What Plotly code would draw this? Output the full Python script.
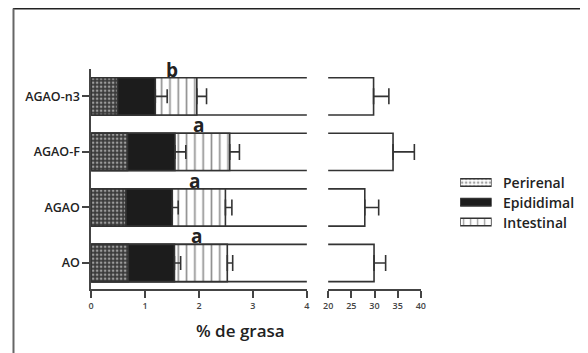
import plotly.graph_objects as go

# ---- data ----
categories = ["AO", "AGAO", "AGAO-F", "AGAO-n3"]
perirenal = [0.69, 0.645, 0.675, 0.49]
epididimal = [0.855, 0.86, 0.88, 0.70]
epididimal_err = [0.115, 0.11, 0.20, 0.22]
intestinal = [0.98, 0.985, 1.015, 0.77]
intestinal_err = [0.10, 0.12, 0.18, 0.18]
total = [29.9, 27.9, 34.0, 29.8]
total_err = [2.5, 3.0, 4.6, 3.3]
letters = ["a", "a", "a", "b"]
legend_names = ["Intestinal", "Epididimal", "Perirenal"]
left_ticks = [0, 1, 2, 3, 4]
right_ticks = [20, 25, 30, 35, 40]

# page body has an 8px margin; work in reference-pixel coordinates
OFF = 8
W, H = 588 - OFF, 353 - OFF
FONT = "Open Sans"
LINE = "#333"


def px(x):
    return (x - OFF) / W


def py(y):
    return 1 - (y - OFF) / H


cum_epi = [p + e for p, e in zip(perirenal, epididimal)]
cum_int = [c + i for c, i in zip(cum_epi, intestinal)]

fig = go.Figure()
bw = 0.67
checker = dict(shape=".", size=4, solidity=0.35, fgcolor="white", bgcolor="#3a3a3a")
vlines = dict(shape="|", size=8.3, solidity=0.2, fgcolor="#222", bgcolor="white")

fig.add_trace(go.Bar(y=categories, x=total, orientation="h", width=bw,
                     marker=dict(color="white", line=dict(color=LINE, width=1.6)),
                     xaxis="x", yaxis="y", showlegend=False, hoverinfo="skip"))
fig.add_trace(go.Bar(y=categories, x=cum_int, orientation="h", width=bw,
                     marker=dict(color="white", line=dict(color=LINE, width=1.6),
                                 pattern=vlines),
                     error_x=dict(type="data", symmetric=False, array=intestinal_err,
                                  arrayminus=[0] * 4, color="#333", thickness=1.6, width=8),
                     xaxis="x", yaxis="y", showlegend=False))
fig.add_trace(go.Bar(y=categories, x=cum_epi, orientation="h", width=bw,
                     marker=dict(color="#1c1c1c", line=dict(color=LINE, width=1.6)),
                     error_x=dict(type="data", symmetric=False, array=epididimal_err,
                                  arrayminus=[0] * 4, color="#333", thickness=1.6, width=7),
                     xaxis="x", yaxis="y", showlegend=False))
fig.add_trace(go.Bar(y=categories, x=perirenal, orientation="h", width=bw,
                     marker=dict(color="white", line=dict(color=LINE, width=1.6),
                                 pattern=checker),
                     xaxis="x", yaxis="y", showlegend=False))
fig.add_trace(go.Bar(y=categories, x=total, orientation="h", width=bw,
                     marker=dict(color="white", line=dict(color=LINE, width=1.6)),
                     error_x=dict(type="data", symmetric=False, array=total_err,
                                  arrayminus=[0] * 4, color="#333", thickness=1.6, width=8),
                     xaxis="x2", yaxis="y", showlegend=False))

# legend swatches drawn as bars on a hidden axis
fig.add_trace(go.Bar(y=legend_names, x=[1, 1, 1], orientation="h", width=0.38,
                     marker=dict(color=["white", "#1c1c1c", "white"],
                                 line=dict(color=LINE, width=1.3),
                                 pattern=dict(shape=["|", "", "."], size=[7, 4, 4],
                                              solidity=[0.2, 0.3, 0.35],
                                              fgcolor=["#222", "#222", "white"],
                                              bgcolor=["white", "#1c1c1c", "#3a3a3a"])),
                     xaxis="x3", yaxis="y3", showlegend=False, hoverinfo="skip"))

annotations = []
for i, (c, t) in enumerate(zip(categories, letters)):
    annotations.append(dict(x=(cum_epi[i] + cum_int[i]) / 2 - 0.08, y=i + 0.48,
                            xref="x", yref="y", text="<b>" + t + "</b>", showarrow=False,
                            font=dict(family=FONT, size=19, color="#222"),
                            xanchor="center", yanchor="middle"))
for i, n in enumerate(legend_names):
    annotations.append(dict(x=px(505), y=i, xref="paper", yref="y3", text=n,
                            showarrow=False, xanchor="left", yanchor="middle",
                            font=dict(family=FONT, size=14, color="#222", weight=600)))
annotations.append(dict(x=px(239), y=py(330), xref="paper", yref="paper",
                        text="% de grasa", showarrow=False, xanchor="center",
                        yanchor="middle",
                        font=dict(family=FONT, size=17, color="#222", weight=600)))

axis_common = dict(showline=True, linecolor="#444", linewidth=1.6, ticks="outside",
                   ticklen=7, tickwidth=1.6, tickcolor="#444", showgrid=False,
                   zeroline=False)

fig.update_layout(
    width=W, height=H,
    margin=dict(l=0, r=0, t=0, b=0),
    paper_bgcolor="white", plot_bgcolor="white",
    barmode="overlay",
    showlegend=False,
    font=dict(family=FONT, color="#333"),
    xaxis=dict(domain=[px(87.5), px(307)], range=[0, 4], tickvals=left_ticks,
               tickfont=dict(size=9, color="#444", weight=600), anchor="y", **axis_common),
    xaxis2=dict(domain=[px(328.7), px(423)], range=[20, 40], tickvals=right_ticks,
                tickfont=dict(size=9, color="#444", weight=600), anchor="y", **axis_common),
    yaxis=dict(domain=[py(289.3), py(68.7)], range=[-0.473, 3.498], type="category",
               categoryorder="array", categoryarray=categories,
               tickfont=dict(size=12.5, color="#222", weight=600), anchor="x",
               **axis_common),
    xaxis3=dict(domain=[px(463), px(495)], range=[0, 1], visible=False,
                anchor="y3", fixedrange=True),
    yaxis3=dict(domain=[py(231.9), py(172.6)], range=[-0.5, 2.5],
                type="category", categoryorder="array", categoryarray=legend_names,
                visible=False, anchor="x3"),
    annotations=annotations,
    shapes=[
        dict(type="line", xref="paper", yref="paper", x0=0, x1=1,
             y0=py(8.5), y1=py(8.5), line=dict(color="#222", width=2)),
        dict(type="line", xref="paper", yref="paper", x0=px(8.5), x1=px(8.5),
             y0=0, y1=py(8.5), line=dict(color="#666", width=2)),
    ],
)

fig.write_html("out.html")
